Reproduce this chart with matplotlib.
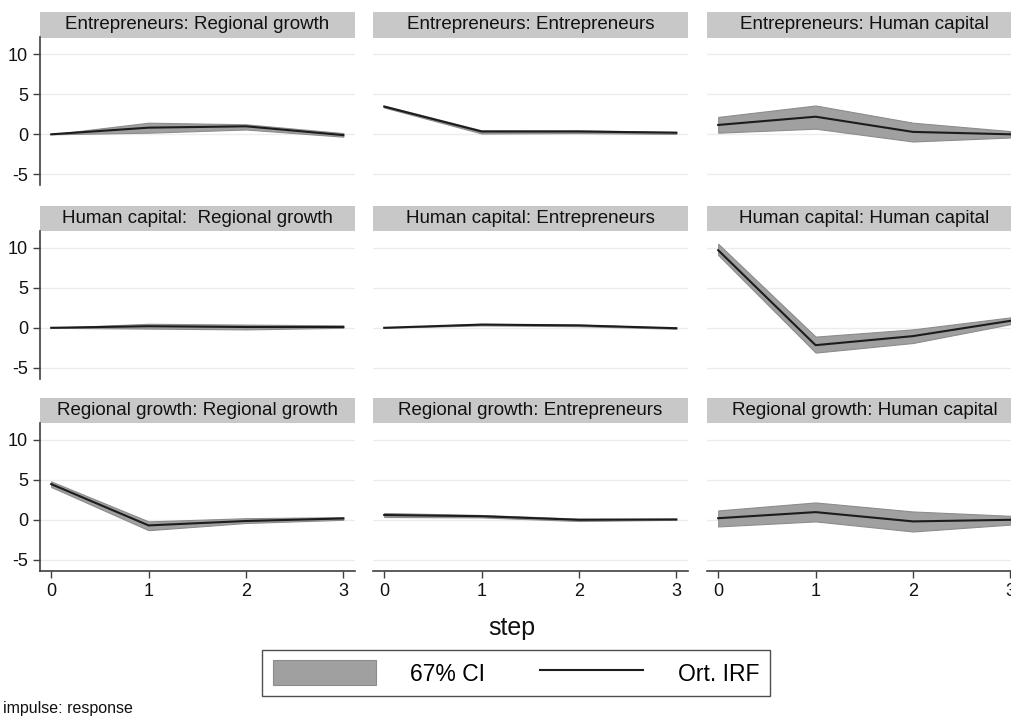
import matplotlib.pyplot as plt
from matplotlib.patches import Patch, Rectangle
from matplotlib.lines import Line2D

plt.rcParams['font.family'] = ['Liberation Sans', 'DejaVu Sans']
plt.rcParams['axes.unicode_minus'] = False

steps = [0, 1, 2, 3]

titles = [
    "Entrepreneurs: Regional growth", "Entrepreneurs: Entrepreneurs", "Entrepreneurs: Human capital",
    "Human capital:  Regional growth", "Human capital: Entrepreneurs", "Human capital: Human capital",
    "Regional growth: Regional growth", "Regional growth: Entrepreneurs", "Regional growth: Human capital",
]

# orthogonalised impulse responses
irf_ent_rg = [0.0, 0.83, 1.0, -0.1]
irf_ent_ent = [3.46, 0.35, 0.35, 0.2]
irf_ent_hc = [1.17, 2.2, 0.3, 0.0]
irf_hc_rg = [0.0, 0.2, 0.1, 0.1]
irf_hc_ent = [0.0, 0.4, 0.3, -0.05]
irf_hc_hc = [9.7, -2.17, -1.04, 0.87]
irf_rg_rg = [4.46, -0.7, -0.15, 0.17]
irf_rg_ent = [0.6, 0.45, 0.0, 0.05]
irf_rg_hc = [0.2, 0.96, -0.2, 0.0]

# 67% confidence bands (lower, upper)
lo_ent_rg = [0.0, 0.2, 0.6, -0.3]
hi_ent_rg = [0.0, 1.45, 1.25, 0.15]
lo_ent_ent = [3.35, 0.1, 0.15, 0.05]
hi_ent_ent = [3.6, 0.5, 0.5, 0.3]
lo_ent_hc = [0.2, 0.7, -0.9, -0.4]
hi_ent_hc = [2.17, 3.6, 1.45, 0.4]
lo_hc_rg = [0.0, -0.1, -0.2, 0.0]
hi_hc_rg = [0.0, 0.5, 0.4, 0.3]
lo_hc_ent = [0.0, 0.3, 0.2, -0.12]
hi_hc_ent = [0.0, 0.5, 0.4, 0.0]
lo_hc_hc = [9.1, -3.1, -1.9, 0.45]
hi_hc_hc = [10.5, -1.1, -0.2, 1.3]
lo_rg_rg = [4.1, -1.3, -0.4, 0.0]
hi_rg_rg = [4.8, -0.2, 0.2, 0.33]
lo_rg_ent = [0.35, 0.3, -0.15, 0.0]
hi_rg_ent = [0.85, 0.6, 0.15, 0.1]
lo_rg_hc = [-0.83, -0.2, -1.46, -0.6]
hi_rg_hc = [1.17, 2.17, 1.04, 0.5]

irfs = [irf_ent_rg, irf_ent_ent, irf_ent_hc, irf_hc_rg, irf_hc_ent, irf_hc_hc,
        irf_rg_rg, irf_rg_ent, irf_rg_hc]
lows = [lo_ent_rg, lo_ent_ent, lo_ent_hc, lo_hc_rg, lo_hc_ent, lo_hc_hc,
        lo_rg_rg, lo_rg_ent, lo_rg_hc]
highs = [hi_ent_rg, hi_ent_ent, hi_ent_hc, hi_hc_rg, hi_hc_ent, hi_hc_hc,
         hi_rg_rg, hi_rg_ent, hi_rg_hc]

W, H = 1012, 718
fig = plt.figure(figsize=(W / 100, H / 100), dpi=100)
fig.patch.set_facecolor('white')

col_left = [40, 373, 707]
row_top = [37.5, 231, 423]
pw, ph = 315, 148
strip_h = 25.5

band_col = '#a0a0a0'
line_col = '#1c1c1c'
axis_col = '#404040'

for i in range(9):
    r, c = divmod(i, 3)
    x0 = col_left[c]
    y0 = row_top[r]
    ax = fig.add_axes([x0 / W, 1 - (y0 + ph) / H, pw / W, ph / H])
    ax.fill_between(steps, lows[i], highs[i], color=band_col, edgecolor='#8c8c8c',
                    linewidth=0.8, zorder=2)
    ax.plot(steps, irfs[i], color=line_col, lw=1.5, zorder=3)
    ax.set_xlim(-0.115, 3.12)
    ax.set_ylim(-6.4, 12.1)
    ax.set_yticks([-5, 0, 5, 10])
    ax.set_xticks(steps)
    ax.grid(axis='y', color='#ececec', lw=1.0, zorder=0)
    for s in ax.spines.values():
        s.set_visible(False)
    ax.tick_params(colors=axis_col, labelcolor='#111111', labelsize=13, length=5, width=1)
    if c == 0:
        ax.spines['left'].set_visible(True)
        ax.spines['left'].set_color(axis_col)
        ax.spines['left'].set_linewidth(1.2)
    else:
        ax.tick_params(axis='y', left=False, labelleft=False)
    if r == 2:
        ax.spines['bottom'].set_visible(True)
        ax.spines['bottom'].set_color(axis_col)
        ax.spines['bottom'].set_linewidth(1.2)
        ax.tick_params(axis='x', pad=4)
    else:
        ax.tick_params(axis='x', bottom=False, labelbottom=False)
    # grey title strip above each panel
    sh = strip_h / ph
    ax.add_patch(Rectangle((0, 1.0), 1, sh, transform=ax.transAxes, facecolor='#c8c8c8',
                           edgecolor='none', clip_on=False, zorder=1))
    ax.text(0.5, 1 + sh / 2, titles[i], transform=ax.transAxes, ha='center', va='center',
            fontsize=13.5, color='#111111')

fig.text(512 / W, 1 - 628 / H, "step", ha='center', va='center', fontsize=18, color='#111111')
fig.text(3 / W, 1 - 708 / H, "impulse: response", ha='left', va='center', fontsize=11.5,
         color='#111111')

handles = [Patch(facecolor=band_col, edgecolor='#8c8c8c', linewidth=0.8),
           Line2D([], [], color=line_col, lw=1.5)]
leg = fig.legend(handles, ["67% CI", "Ort. IRF"], loc='center',
                 bbox_to_anchor=(516 / W, 1 - 673 / H), ncol=2, fontsize=16.5,
                 frameon=True, fancybox=False, edgecolor='#222222',
                 handlelength=4.5, handleheight=1.3, columnspacing=2.4,
                 handletextpad=1.5, borderpad=0.45, borderaxespad=0)
leg.get_frame().set_linewidth(1.0)

fig.savefig("out.png", dpi=100)
